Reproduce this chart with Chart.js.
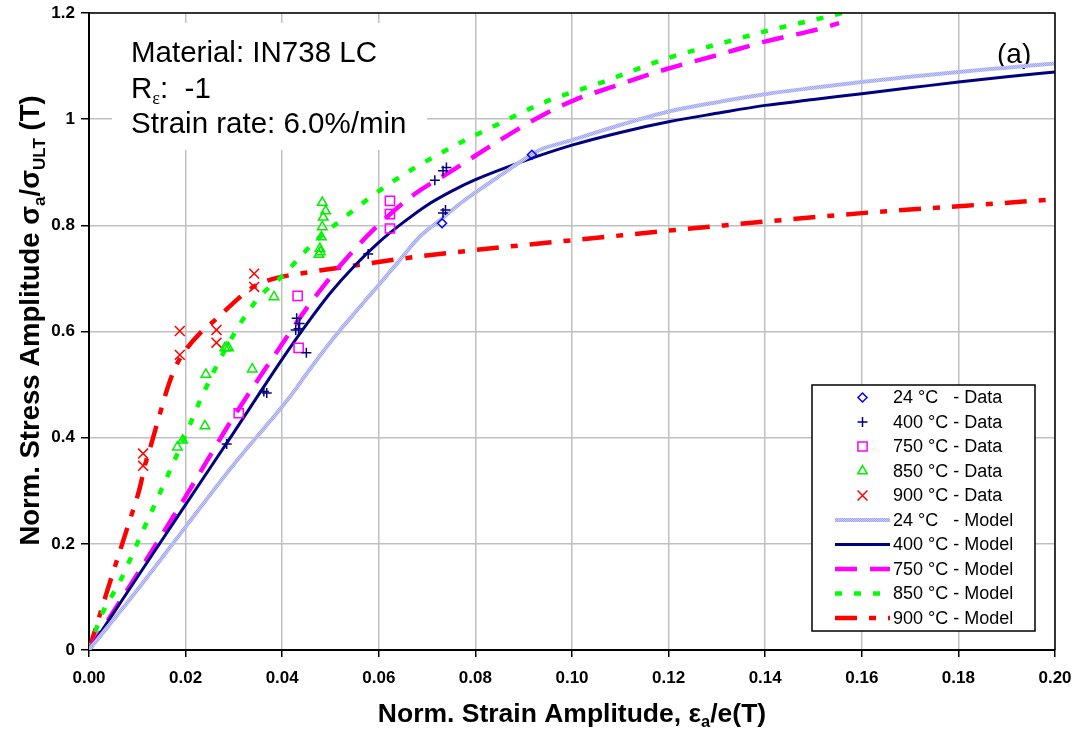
<!DOCTYPE html>
<html>
<head>
<meta charset="utf-8">
<script src="https://cdn.jsdelivr.net/npm/chart.js@4.4.0/dist/chart.umd.min.js"></script>
<style>
  html, body { margin: 0; padding: 0; background: #fff; }
  #wrap { width: 1078px; height: 735px; }
</style>
</head>
<body>
<div id="wrap"><canvas id="chart" width="1078" height="735"></canvas></div>
<script>
// axis ticks
const xTickValues = [0, 0.02, 0.04, 0.06, 0.08, 0.10, 0.12, 0.14, 0.16, 0.18, 0.20];
const xTickLabels = ['0.00', '0.02', '0.04', '0.06', '0.08', '0.10', '0.12', '0.14', '0.16', '0.18', '0.20'];
const yTickValues = [0, 0.2, 0.4, 0.6, 0.8, 1.0, 1.2];
const yTickLabels = ['0', '0.2', '0.4', '0.6', '0.8', '1', '1.2'];

const seriesLabels = [
  '24 °C   - Data', '400 °C - Data', '750 °C - Data', '850 °C - Data', '900 °C - Data',
  '24 °C   - Model', '400 °C - Model', '750 °C - Model', '850 °C - Model', '900 °C - Model'
];

// test data (norm. strain amplitude / norm. stress amplitude)
const data24x = [0.0731, 0.0917];
const data24y = [0.804, 0.933];
const data400x = [0.0285, 0.0362, 0.0368, 0.0430, 0.0436, 0.0428, 0.0434, 0.0450, 0.0578, 0.0716, 0.0733, 0.0740, 0.0733, 0.0738];
const data400y = [0.388, 0.487, 0.484, 0.625, 0.615, 0.603, 0.605, 0.560, 0.746, 0.885, 0.903, 0.909, 0.823, 0.829];
const data750x = [0.0310, 0.0432, 0.0434, 0.0623, 0.0623, 0.0623];
const data750y = [0.446, 0.667, 0.569, 0.846, 0.821, 0.794];
const data850x = [0.0183, 0.0194, 0.0240, 0.0242, 0.0338, 0.0281, 0.0285, 0.0289, 0.0383, 0.0483, 0.0490, 0.0485, 0.0483, 0.0481, 0.0478, 0.0476, 0.0479];
const data850y = [0.382, 0.395, 0.422, 0.519, 0.529, 0.569, 0.570, 0.569, 0.665, 0.843, 0.827, 0.815, 0.797, 0.778, 0.756, 0.745, 0.750];
const data900x = [0.0112, 0.0112, 0.0188, 0.0188, 0.0264, 0.0264, 0.0342, 0.0342];
const data900y = [0.370, 0.347, 0.601, 0.556, 0.603, 0.579, 0.709, 0.684];

// model curves
const model24x = [0, 0.01, 0.02, 0.03, 0.0416, 0.045, 0.0498, 0.055, 0.0602, 0.0643, 0.0684, 0.073, 0.077, 0.081, 0.085, 0.09, 0.0933, 0.0998, 0.11, 0.1198, 0.13, 0.1399, 0.15, 0.16, 0.17, 0.18, 0.19, 0.2];
const model24y = [0, 0.113, 0.232, 0.35, 0.477, 0.52, 0.578, 0.635, 0.690, 0.734, 0.778, 0.812, 0.842, 0.868, 0.893, 0.924, 0.942, 0.960, 0.989, 1.014, 1.032, 1.047, 1.059, 1.070, 1.080, 1.089, 1.097, 1.105];
const model400x = [0, 0.01, 0.02, 0.03, 0.04, 0.045, 0.05, 0.055, 0.06, 0.065, 0.07, 0.075, 0.08, 0.09, 0.1, 0.11, 0.12, 0.13, 0.14, 0.15, 0.16, 0.17, 0.18, 0.19, 0.2];
const model400y = [0, 0.137, 0.274, 0.41, 0.548, 0.613, 0.673, 0.724, 0.768, 0.805, 0.838, 0.864, 0.886, 0.921, 0.951, 0.975, 0.995, 1.011, 1.026, 1.037, 1.048, 1.059, 1.070, 1.080, 1.089];
const model750x = [0, 0.01, 0.02, 0.03, 0.041, 0.045, 0.0498, 0.0545, 0.0588, 0.0667, 0.075, 0.085, 0.094, 0.1005, 0.1074, 0.1198, 0.1302, 0.1399, 0.1512, 0.1553];
const model750y = [0, 0.143, 0.289, 0.44, 0.59, 0.643, 0.700, 0.75, 0.791, 0.854, 0.902, 0.96, 1.008, 1.036, 1.058, 1.095, 1.121, 1.146, 1.170, 1.181];
const model850x = [0, 0.0026, 0.0064, 0.01, 0.014, 0.02, 0.023, 0.0285, 0.0347, 0.0402, 0.0464, 0.0526, 0.0623, 0.074, 0.085, 0.0946, 0.1064, 0.1198, 0.1326, 0.1402, 0.1505, 0.1577];
const model850y = [0, 0.066, 0.129, 0.201, 0.282, 0.405, 0.47, 0.571, 0.659, 0.706, 0.766, 0.813, 0.879, 0.942, 0.992, 1.033, 1.070, 1.115, 1.147, 1.166, 1.188, 1.204];
const model900x = [0, 0.004, 0.008, 0.0105, 0.0115, 0.0128, 0.015, 0.0165, 0.018, 0.02, 0.023, 0.0264, 0.0309, 0.034, 0.0381, 0.0457, 0.054, 0.0671, 0.0795, 0.1057, 0.12, 0.14, 0.16, 0.18, 0.2];
const model900y = [0, 0.118, 0.232, 0.305, 0.345, 0.385, 0.455, 0.5, 0.535, 0.565, 0.597, 0.624, 0.662, 0.684, 0.699, 0.712, 0.723, 0.740, 0.753, 0.777, 0.79, 0.807, 0.823, 0.836, 0.849];

const FONT = '"Liberation Sans", Arial, sans-serif';
const SERIF = '"Liberation Serif", "Times New Roman", serif';

function pts(xs, ys) {
  return xs.map((x, i) => ({ x: x, y: ys[i] }));
}

function dataSet(label, xs, ys, style, radius, color) {
  return {
    label: label,
    data: pts(xs, ys),
    showLine: false,
    pointStyle: style,
    pointRadius: radius,
    pointHoverRadius: radius,
    pointBorderColor: color,
    pointBackgroundColor: 'rgba(0,0,0,0)',
    pointBorderWidth: 1.5
  };
}

function modelSet(label, xs, ys, color, width, dash) {
  return {
    label: label,
    data: pts(xs, ys),
    showLine: true,
    borderColor: color,
    borderWidth: width,
    borderDash: dash,
    borderCapStyle: 'butt',
    pointRadius: 0,
    pointHoverRadius: 0,
    fill: false,
    cubicInterpolationMode: 'monotone'
  };
}

// striped light line for the 24 °C model
function stripes() {
  const c = document.createElement('canvas');
  c.width = 2; c.height = 2;
  const g = c.getContext('2d');
  g.fillStyle = '#c6c9f6';
  g.fillRect(0, 0, 2, 2);
  g.fillStyle = '#a3a9ef';
  g.fillRect(0, 0, 1, 1);
  g.fillRect(1, 1, 1, 1);
  return g.createPattern(c, 'repeat');
}

// pieces of text with subscripts
function drawRich(ctx, parts, x, y, size, weight) {
  let cx = x;
  parts.forEach(p => {
    const s = p.sub ? size * 0.62 : size;
    ctx.font = weight + ' ' + s + 'px ' + (p.serif ? SERIF : FONT);
    ctx.fillText(p.t, cx, y + (p.sub ? size * 0.2 : 0));
    cx += ctx.measureText(p.t).width;
  });
  return cx - x;
}
function richWidth(ctx, parts, size, weight) {
  let w = 0;
  parts.forEach(p => {
    const s = p.sub ? size * 0.62 : size;
    ctx.font = weight + ' ' + s + 'px ' + (p.serif ? SERIF : FONT);
    w += ctx.measureText(p.t).width;
  });
  return w;
}

const xTitle = [{ t: 'Norm. Strain Amplitude, ε' }, { t: 'a', sub: true }, { t: '/e(T)' }];
const yTitle = [{ t: 'Norm. Stress Amplitude σ' }, { t: 'a', sub: true }, { t: '/σ' }, { t: 'ULT', sub: true }, { t: ' (T)' }];

const decor = {
  id: 'decor',
  beforeDatasetsDraw(chart) {
    const ctx = chart.ctx;
    const a = chart.chartArea;
    ctx.save();
    // note box
    ctx.fillStyle = '#fff';
    ctx.fillRect(a.left + 23, a.top + 10, 315, 127);
    ctx.fillStyle = '#000';
    ctx.textBaseline = 'alphabetic';
    ctx.font = '29.5px ' + FONT;
    ctx.fillText('Material: IN738 LC', a.left + 42, a.top + 49);
    drawRich(ctx, [{ t: 'R' }, { t: 'ε', sub: true, serif: true }, { t: ':  -1' }], a.left + 42, a.top + 85, 29.5, 'normal');
    ctx.font = '29.5px ' + FONT;
    ctx.fillText('Strain rate: 6.0%/min', a.left + 42, a.top + 120);
    ctx.font = '28px ' + FONT;
    ctx.fillText('(a)', a.right - 58, a.top + 50);
    ctx.restore();
  },
  afterDatasetsDraw(chart) {
    const ctx = chart.ctx;
    const a = chart.chartArea;
    const left = a.right - 243, top = 385, w = 223, h = 246;
    ctx.save();
    ctx.fillStyle = '#fff';
    ctx.fillRect(left, top, w, h);
    ctx.strokeStyle = '#000';
    ctx.lineWidth = 1.5;
    ctx.strokeRect(left, top, w, h);
    chart.data.datasets.forEach((ds, i) => {
      const y = top + 12.5 + i * 24.5;
      const mx = left + 50.5;
      ctx.save();
      if (ds.showLine) {
        ctx.strokeStyle = ds.borderColor;
        ctx.lineWidth = ds.borderWidth;
        ctx.setLineDash(ds.borderDash || []);
        ctx.lineCap = 'butt';
        ctx.beginPath();
        ctx.moveTo(left + 23, y);
        ctx.lineTo(left + 78, y);
        ctx.stroke();
      } else {
        ctx.strokeStyle = ds.pointBorderColor;
        ctx.fillStyle = 'rgba(0,0,0,0)';
        ctx.lineWidth = ds.pointBorderWidth;
        Chart.helpers.drawPoint(ctx, { pointStyle: ds.pointStyle, radius: ds.pointRadius, borderWidth: ds.pointBorderWidth, rotation: 0 }, mx, y);
      }
      ctx.restore();
      ctx.fillStyle = '#000';
      ctx.font = '18px ' + FONT;
      ctx.textBaseline = 'middle';
      ctx.fillText(seriesLabels[i], left + 81, y + 1);
    });
    ctx.restore();
  },
  afterDraw(chart) {
    const ctx = chart.ctx;
    const a = chart.chartArea;
    ctx.save();
    ctx.strokeStyle = '#000';
    ctx.lineWidth = 1.5;
    ctx.beginPath();
    ctx.moveTo(a.left, a.top);
    ctx.lineTo(a.right, a.top);
    ctx.lineTo(a.right, a.bottom);
    ctx.stroke();
    ctx.fillStyle = '#000';
    ctx.textBaseline = 'alphabetic';
    const wx = richWidth(ctx, xTitle, 26.5, 'bold');
    drawRich(ctx, xTitle, (a.left + a.right) / 2 - wx / 2, 722, 26.5, 'bold');
    const wy = richWidth(ctx, yTitle, 27.5, 'bold');
    ctx.translate(39, (a.top + a.bottom) / 2 - 11);
    ctx.rotate(-Math.PI / 2);
    drawRich(ctx, yTitle, -wy / 2, 0, 27.5, 'bold');
    ctx.restore();
  }
};

const ctx = document.getElementById('chart').getContext('2d');

const datasets = [
  dataSet(seriesLabels[0], data24x, data24y, 'rectRot', 4.5, '#0000ff'),
  dataSet(seriesLabels[1], data400x, data400y, 'cross', 5, '#000080'),
  dataSet(seriesLabels[2], data750x, data750y, 'rect', 6.5, '#ff00ff'),
  dataSet(seriesLabels[3], data850x, data850y, 'triangle', 5.5, '#00ee00'),
  dataSet(seriesLabels[4], data900x, data900y, 'crossRot', 7, '#ff0000'),
  modelSet(seriesLabels[5], model24x, model24y, stripes(), 4, []),
  modelSet(seriesLabels[6], model400x, model400y, '#000080', 3, []),
  modelSet(seriesLabels[7], model750x, model750y, '#ff00ff', 4.5, [22, 13]),
  modelSet(seriesLabels[8], model850x, model850y, '#00ff00', 4.5, [7, 12]),
  modelSet(seriesLabels[9], model900x, model900y, '#ff0000', 4.5, [22, 12, 7, 12])
];

const chart = new Chart(ctx, {
  type: 'scatter',
  data: { datasets: datasets },
  options: {
    responsive: false,
    animation: false,
    devicePixelRatio: 1,
    layout: { padding: { left: 0, top: 13, right: 23, bottom: 0 } },
    plugins: { legend: { display: false }, tooltip: { enabled: false } },
    scales: {
      x: {
        type: 'linear',
        min: 0,
        max: 0.2,
        afterBuildTicks: s => { s.ticks = xTickValues.map(v => ({ value: v })); },
        afterFit: s => { s.height = 85; s.paddingLeft = 0; s.paddingRight = 0; },
        ticks: {
          callback: (v, i) => xTickLabels[i],
          font: { family: FONT, size: 17, weight: 'bold' },
          color: '#000',
          padding: 11,
          maxRotation: 0,
          autoSkip: false
        },
        grid: { color: '#c0c0c0', lineWidth: 1.5, tickLength: 7, tickColor: '#000', tickWidth: 1.5 },
        border: { color: '#000', width: 2 }
      },
      y: {
        type: 'linear',
        min: 0,
        max: 1.2,
        afterBuildTicks: s => { s.ticks = yTickValues.map(v => ({ value: v })); },
        afterFit: s => { s.width = 89; s.paddingTop = 0; s.paddingBottom = 0; },
        ticks: {
          callback: (v, i) => yTickLabels[i],
          font: { family: FONT, size: 17, weight: 'bold' },
          color: '#000',
          padding: 6,
          autoSkip: false
        },
        grid: { color: '#c0c0c0', lineWidth: 1.5, tickLength: 8, tickColor: '#000', tickWidth: 1.5 },
        border: { color: '#000', width: 2 }
      }
    }
  },
  plugins: [decor]
});
</script>
</body>
</html>
